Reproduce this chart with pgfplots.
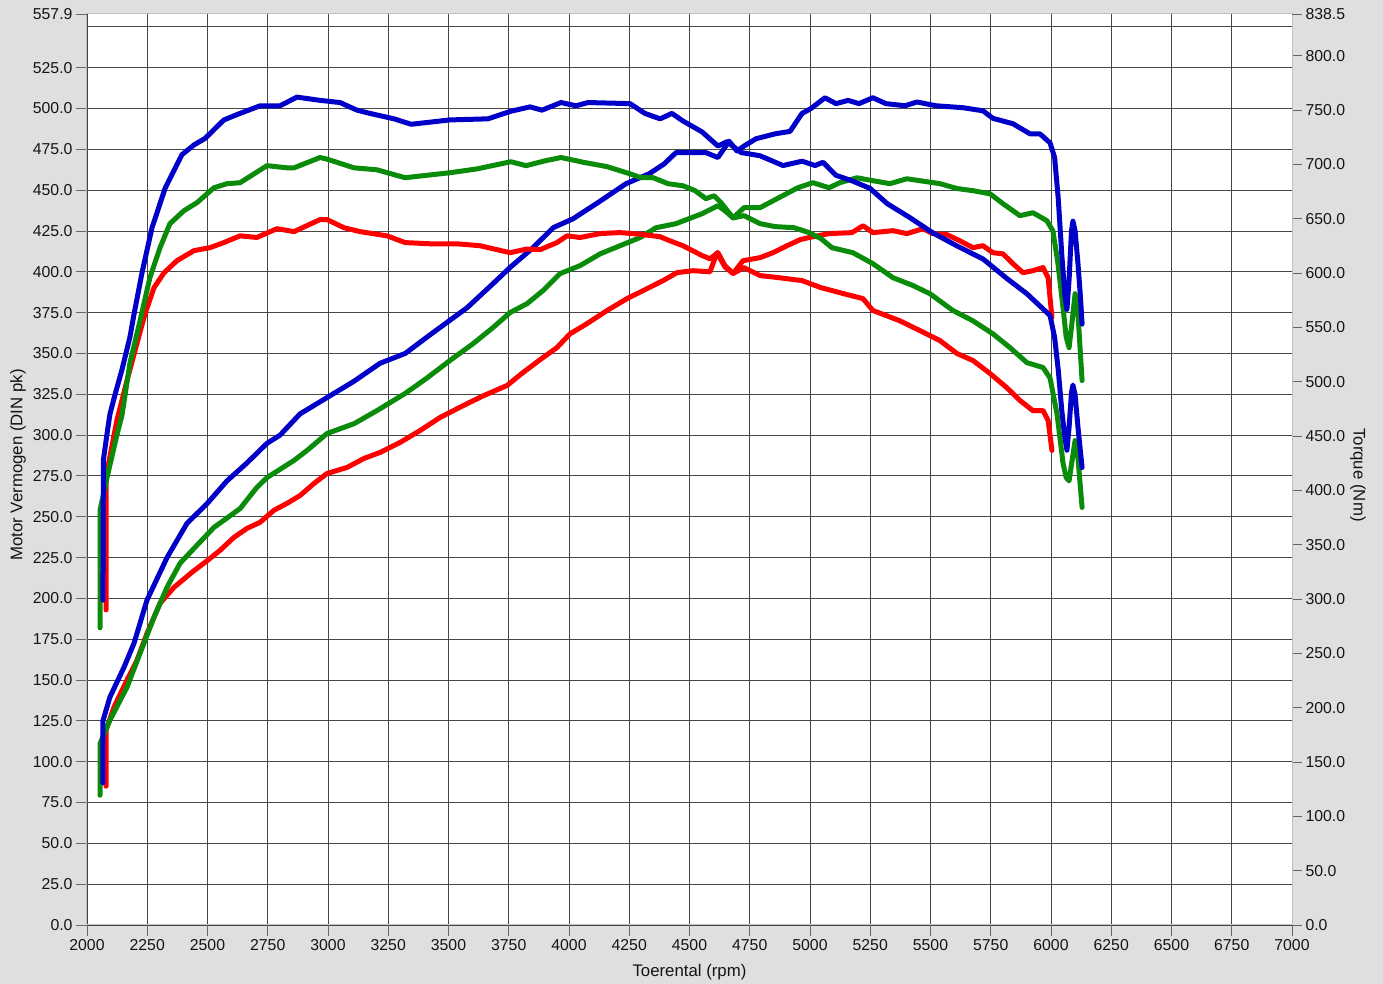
\documentclass[border=0pt]{standalone}
\usepackage{fontspec}
\setmainfont{Liberation Sans}
\usepackage{pgfplots}
\usepackage{pgfplotstable}
\pgfplotsset{compat=1.18}

\definecolor{bg}{RGB}{223,223,223}
\definecolor{dynoblue}{RGB}{0,0,200}
\definecolor{dynogreen}{RGB}{10,140,10}
\definecolor{dynored}{RGB}{255,0,0}
\definecolor{gridc}{RGB}{70,70,70}
\definecolor{txt}{RGB}{20,20,20}

% power (DIN pk), left axis
\pgfplotstableread{
rpm pk
2066 87
2066 125
2095 139.5
2154 158
2195 172.5
2249 199
2332 225
2415 246
2498 258
2581 272
2664 283
2747 295
2801 300
2884 313
2996 323
3108 333
3216 344
3320 350
3436 362.8
3577 378
3685 392.8
3755 402.6
3851 414.8
3934 427
4017 432.5
4116 442
4237 454
4332 460
4394 466
4444 473
4568 473
4618 470
4664 480
4697 474
4726 477
4776 481.5
4855 484.5
4917 486
4967 497
5004 500
5062 506.6
5108 503
5158 505
5203 503
5261 506.6
5315 503
5394 501.7
5444 504
5523 501.7
5635 500.5
5718 498.6
5759 494
5842 490.7
5913 484.5
5954 484.5
5996 479
6015 470
6030 445
6045 410
6058 385
6066 377
6075 395
6085 425
6091 431
6100 425
6112 405
6122 385
6129 368
}\bluepower

\pgfplotstableread{
rpm pk
2054 79.5
2054 111
2095 125.4
2166 145.6
2220 166.4
2278 188.4
2332 206.8
2386 221.5
2456 232.5
2527 243.5
2635 255
2705 268
2747 274
2859 284.5
2913 290.6
2996 301
3108 307
3203 315
3320 325.5
3411 335
3506 345.7
3602 356
3685 365.9
3755 375
3826 380.5
3892 388.5
3963 398.9
4046 403.8
4129 411
4212 416
4295 421
4361 427
4444 429.5
4506 433
4552 435.6
4618 440.5
4647 437.4
4681 433
4726 439.3
4793 439.3
4871 445.4
4950 451.5
5012 454.6
5079 451.5
5124 454.6
5195 457.6
5261 455.8
5332 454
5402 457
5456 455.8
5539 454
5610 451
5676 449.7
5747 447.8
5801 441.7
5871 434.4
5925 436.2
5983 431.3
6008 425
6029 405
6050 378
6063 360
6075 353.6
6088 370
6100 386.6
6112 374.4
6122 350
6129 333.4
}\greenpower

\pgfplotstableread{
rpm pk
2079 85
2079 119.3
2112 133.4
2166 150
2207 162
2249 178.6
2303 197
2361 206.8
2444 217
2498 223
2552 229.4
2610 237.4
2664 242.9
2718 246.6
2776 254
2830 258.2
2884 263
2942 270.4
2996 276.5
3079 280.2
3149 285.7
3216 289.4
3299 295.5
3382 302.8
3465 310.8
3560 318
3643 324
3743 330.4
3809 338.3
3892 347.5
3950 353.6
4004 362
4075 368.3
4158 376.3
4241 383.6
4324 389.7
4390 394.6
4448 399.5
4515 400.7
4585 400
4614 411.7
4647 403
4681 399
4722 406.8
4793 408.7
4846 411.7
4905 416
4959 419.7
4996 421
5079 423.4
5174 424
5220 428.2
5261 424
5344 425.2
5402 423.4
5469 426.4
5510 423.4
5568 422.8
5622 419
5676 414.8
5718 416
5759 411.7
5801 411
5842 405
5884 399.5
5925 400.7
5967 402.6
5988 396.4
6004 372
}\redpower

% torque (Nm), right axis
\pgfplotstableread{
rpm nm
2066 299
2068 428
2083 452
2095 470
2116 488
2145 511
2178 541
2195 562
2228 600
2270 642
2324 678
2394 709
2444 718
2490 724
2568 741
2635 747
2718 754
2801 754
2871 762
2967 759
3050 757
3120 750
3174 747
3274 742
3345 737
3506 741
3664 742
3759 749
3838 753
3888 750
3967 757
4029 754
4079 757
4253 756
4315 747
4378 742
4427 747
4473 740
4552 730
4618 717
4656 721
4714 711
4793 708
4888 699
4967 703
5021 699
5054 702
5108 690
5174 685
5249 678
5320 664
5415 651
5510 637
5610 625
5718 613
5817 595
5900 581
5996 561
6015 541
6030 511
6045 473
6058 448
6066 437
6075 458
6085 490
6091 497
6100 488
6112 458
6122 436
6129 421
}\bluetorque

\pgfplotstableread{
rpm nm
2054 273.5
2054 381.8
2083 411.8
2124 450.9
2145 468.9
2178 517
2220 556.1
2261 595.8
2303 623.4
2344 645.5
2402 657.4
2456 664.8
2527 678.6
2581 682.3
2635 683.2
2747 698.9
2830 696.9
2859 696.9
2967 706.4
2996 704.9
3108 696.9
3203 695.1
3320 687.8
3506 692.4
3618 695.9
3681 698.9
3759 702.5
3822 698.9
3901 703.4
3967 706.4
4062 701.9
4158 698
4253 691.4
4299 687.8
4349 687.8
4411 682.3
4473 680.4
4523 675.9
4568 668.5
4602 671.2
4631 664.8
4681 650.8
4726 652.9
4793 645.5
4855 642.8
4934 641.8
4996 637.3
5046 631.7
5091 623.4
5178 618.8
5261 608.7
5344 595.8
5427 588.6
5498 581
5593 565.6
5676 556.1
5759 544.1
5830 531.4
5900 517.6
5967 513.1
5996 503.5
6025 470.4
6050 424.9
6063 411.8
6075 408.8
6088 428.3
6100 445.9
6112 429.8
6122 402.8
6129 384.3
}\greentorque

\pgfplotstableread{
rpm nm
2079 290
2079 411.8
2090 425.3
2124 464.4
2166 501.1
2207 535.1
2241 562.7
2278 586.6
2320 600.4
2373 611.4
2444 620.7
2510 623.4
2568 628.1
2635 634.3
2705 632.8
2788 640.9
2859 638.2
2967 649.3
2996 649.3
3066 641.8
3133 638.2
3245 634.3
3320 628.1
3423 627
3535 627
3631 625.2
3755 618.8
3826 622.2
3880 621.6
3950 628.1
3992 634.3
4046 632.8
4129 636.4
4212 637.3
4295 635.8
4378 633.5
4419 629.7
4473 625.2
4552 616.2
4585 613.2
4618 618.8
4647 606.9
4681 599.7
4726 605.1
4793 597.7
4871 595.8
4967 593.1
5046 586.6
5141 581
5220 576.5
5261 565.6
5373 556.1
5456 547.1
5539 537.9
5610 526
5676 519.6
5747 507.6
5817 494.5
5871 482.8
5925 473.4
5967 473.4
5988 464.4
6004 436.8
}\redtorque

\begin{document}
\begin{tikzpicture}[font=\fontsize{15.8}{19}\selectfont]
\fill[bg] (-87pt,-59pt) rectangle (1296pt,925pt);

\begin{axis}[
    scale only axis,
    width=1205pt,
    height=911pt,
    xmin=2000, xmax=7000,
    ymin=0, ymax=557.9,
    xtick={2000,2250,...,7000},
    ytick={0,25,...,525},
    extra y ticks={557.9},
    extra y tick labels={557.9},
    extra y tick style={grid=none},
    grid=major,
    grid style={draw=gridc, line width=0.9pt},
    axis background/.style={fill=white},
    axis line style={draw=black!25, line width=1pt},
    tick align=outside,
    tick pos=left,
    major tick length=11pt,
    tick style={draw=black!60, line width=0.9pt},
    tick label style={text=txt},
    /pgf/number format/assume math mode=true,
    x tick label style={/pgf/number format/1000 sep={}},
    y tick label style={/pgf/number format/.cd, fixed, fixed zerofill, precision=1, /tikz/.cd},
    xlabel={Toerental (rpm)},
    ylabel={Motor Vermogen (DIN pk)},
    every axis x label/.style={at={(axis description cs:0.5,-0.0516)}, anchor=center, text=txt, font=\fontsize{16.8}{20}\selectfont},
    every axis y label/.style={at={(axis description cs:-0.0573,0.505)}, rotate=90, anchor=center, text=txt, font=\fontsize{16.8}{20}\selectfont},
    every axis plot/.append style={line width=5pt, line join=round, line cap=round},
    no markers,
]
\draw[gridc, line width=0.9pt] (axis cs:2000,550) -- (axis cs:7000,550);
\addplot[dynored] table[x=rpm, y=pk] {\redpower};
\addplot[dynogreen] table[x=rpm, y=pk] {\greenpower};
\addplot[dynoblue] table[x=rpm, y=pk] {\bluepower};
\end{axis}

\begin{axis}[
    scale only axis,
    width=1205pt,
    height=911pt,
    xmin=2000, xmax=7000,
    ymin=0, ymax=838.5,
    axis x line=none,
    axis y line*=right,
    ytick={0,50,...,800},
    extra y ticks={838.5},
    extra y tick labels={838.5},
    axis line style={draw=black!25, line width=1pt},
    tick align=outside,
    major tick length=10pt,
    tick style={draw=black!60, line width=0.9pt},
    tick label style={text=txt},
    /pgf/number format/assume math mode=true,
    y tick label style={/pgf/number format/.cd, fixed, fixed zerofill, precision=1, /tikz/.cd},
    ylabel={Torque (Nm)},
    every axis y label/.style={at={(axis description cs:1.0548,0.494)}, rotate=-90, anchor=center, text=txt, font=\fontsize{16.8}{20}\selectfont},
    every axis plot/.append style={line width=5pt, line join=round, line cap=round},
    no markers,
]
\addplot[dynored] table[x=rpm, y=nm] {\redtorque};
\addplot[dynogreen] table[x=rpm, y=nm] {\greentorque};
\addplot[dynoblue] table[x=rpm, y=nm] {\bluetorque};
\end{axis}

\pgfresetboundingbox
\useasboundingbox (-87pt,-59pt) rectangle (1296pt,925pt);
\end{tikzpicture}
\end{document}
